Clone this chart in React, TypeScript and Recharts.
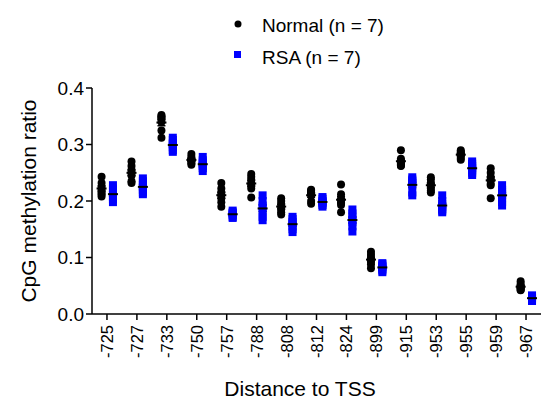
import React from 'react';
import { ScatterChart, Scatter, XAxis, YAxis, ErrorBar } from 'recharts';

const positions = ['-725', '-727', '-733', '-750', '-757', '-788', '-808', '-812', '-824', '-899', '-915', '-953', '-955', '-959', '-967'];

const normalValues: number[][] = [
  [0.243, 0.232, 0.225, 0.22, 0.215, 0.212, 0.208],
  [0.27, 0.262, 0.255, 0.25, 0.245, 0.235, 0.232],
  [0.352, 0.35, 0.348, 0.345, 0.34, 0.325, 0.312],
  [0.283, 0.278, 0.275, 0.272, 0.27, 0.267, 0.264],
  [0.232, 0.222, 0.215, 0.21, 0.205, 0.198, 0.19],
  [0.248, 0.243, 0.238, 0.232, 0.228, 0.222, 0.206],
  [0.205, 0.2, 0.195, 0.19, 0.185, 0.18, 0.176],
  [0.22, 0.218, 0.215, 0.213, 0.21, 0.2, 0.195],
  [0.229, 0.212, 0.205, 0.2, 0.197, 0.193, 0.18],
  [0.11, 0.105, 0.1, 0.097, 0.093, 0.088, 0.081],
  [0.29, 0.275, 0.27, 0.268, 0.265, 0.263, 0.262],
  [0.242, 0.238, 0.232, 0.228, 0.222, 0.218, 0.215],
  [0.29, 0.287, 0.285, 0.283, 0.28, 0.276, 0.273],
  [0.258, 0.25, 0.242, 0.238, 0.235, 0.228, 0.205],
  [0.058, 0.053, 0.05, 0.047, 0.045, 0.043, 0.042],
];

const rsaValues: number[][] = [
  [0.228, 0.222, 0.215, 0.212, 0.207, 0.203, 0.198],
  [0.24, 0.235, 0.228, 0.225, 0.22, 0.215, 0.212],
  [0.312, 0.308, 0.302, 0.3, 0.295, 0.29, 0.287],
  [0.278, 0.272, 0.268, 0.265, 0.262, 0.258, 0.253],
  [0.183, 0.18, 0.178, 0.178, 0.175, 0.172, 0.17],
  [0.21, 0.2, 0.192, 0.188, 0.18, 0.172, 0.166],
  [0.172, 0.168, 0.163, 0.16, 0.155, 0.15, 0.145],
  [0.207, 0.204, 0.2, 0.198, 0.196, 0.193, 0.19],
  [0.185, 0.178, 0.172, 0.166, 0.162, 0.155, 0.146],
  [0.09, 0.088, 0.085, 0.083, 0.08, 0.077, 0.074],
  [0.242, 0.238, 0.235, 0.232, 0.228, 0.215, 0.21],
  [0.21, 0.2, 0.195, 0.19, 0.186, 0.183, 0.18],
  [0.27, 0.266, 0.262, 0.258, 0.254, 0.25, 0.246],
  [0.228, 0.22, 0.215, 0.212, 0.205, 0.198, 0.192],
  [0.033, 0.031, 0.029, 0.028, 0.027, 0.025, 0.023],
];

const yTicks = [0, 0.1, 0.2, 0.3, 0.4];
const seriesNames = ['Normal (n = 7)', 'RSA (n = 7)'];

const FONT = '"Liberation Sans", Arial, Helvetica, sans-serif';
const BLUE = '#0000ff';
const NORMAL_OFFSET = -0.18;
const RSA_OFFSET = 0.2;

type Pt = { x: number; y: number; err?: number };

function toPoints(groups: number[][], offset: number): Pt[] {
  const out: Pt[] = [];
  groups.forEach((vals, i) => vals.forEach((v) => out.push({ x: i + offset, y: v })));
  return out;
}

function toMeans(groups: number[][], offset: number): Pt[] {
  return groups.map((vals, i) => {
    const n = vals.length;
    const m = vals.reduce((a, b) => a + b, 0) / n;
    const sd = Math.sqrt(vals.reduce((a, b) => a + (b - m) * (b - m), 0) / (n - 1));
    return { x: i + offset, y: m, err: sd / Math.sqrt(n) };
  });
}

const normalPts = toPoints(normalValues, NORMAL_OFFSET);
const rsaPts = toPoints(rsaValues, RSA_OFFSET);
const normalMeans = toMeans(normalValues, NORMAL_OFFSET);
const rsaMeans = toMeans(rsaValues, RSA_OFFSET);

const Dot = (p: any) => <circle cx={p.cx} cy={p.cy} r={4} fill="#000" />;
const Square = (p: any) => <rect x={p.cx - 4} y={p.cy - 4} width={8} height={8} fill={BLUE} />;
const MeanLine = (p: any) => (
  <line x1={p.cx - 5} x2={p.cx + 5} y1={p.cy} y2={p.cy} stroke="#000" strokeWidth={2} />
);

const XTick = (p: any) => {
  const { x, y, payload } = p;
  const ty = y + 3;
  return (
    <text
      x={x}
      y={ty}
      transform={`rotate(-90, ${x}, ${ty})`}
      textAnchor="end"
      dominantBaseline="central"
      fontFamily={FONT}
      fontSize={16.5}
      fill="#000"
    >
      {positions[payload.value]}
    </text>
  );
};

const YLabel = (p: any) => {
  const vb = p.viewBox || { x: 0, y: 88, width: 92, height: 226 };
  const cx = vb.x + 28;
  const cy = vb.y + vb.height / 2;
  return (
    <text
      x={cx}
      y={cy}
      transform={`rotate(-90, ${cx}, ${cy})`}
      textAnchor="middle"
      dominantBaseline="central"
      fontFamily={FONT}
      fontSize={21}
      fill="#000"
    >
      CpG methylation ratio
    </text>
  );
};

const XLabel = (p: any) => {
  const vb = p.viewBox || { x: 92, y: 314, width: 449, height: 93 };
  return (
    <text x={vb.x + 208} y={vb.y + 82} textAnchor="middle" fontFamily={FONT} fontSize={21} fill="#000">
      Distance to TSS
    </text>
  );
};

export default function App() {
  return (
    <div style={{ position: 'absolute', left: 0, top: 0, width: 541, height: 407, background: '#fff' }}>
      <ScatterChart width={541} height={407} margin={{ top: 88, right: 0, bottom: 0, left: 0 }}>
        <XAxis
          type="number"
          dataKey="x"
          domain={[-0.5, 14.5]}
          ticks={positions.map((_, i) => i)}
          interval={0}
          allowDataOverflow
          height={93}
          tickSize={6}
          axisLine={{ stroke: '#000', strokeWidth: 1.5 }}
          tickLine={{ stroke: '#000', strokeWidth: 1.5 }}
          tick={<XTick />}
          label={XLabel}
        />
        <YAxis
          type="number"
          dataKey="y"
          domain={[0, 0.4]}
          ticks={yTicks}
          interval={0}
          width={92}
          tickSize={6}
          tickFormatter={(v: number) => v.toFixed(1)}
          axisLine={{ stroke: '#000', strokeWidth: 1.5 }}
          tickLine={{ stroke: '#000', strokeWidth: 1.5 }}
          tick={{ fill: '#000', fontSize: 19, fontFamily: FONT }}
          label={YLabel}
        />
        <Scatter name={seriesNames[0]} data={normalPts} shape={Dot} isAnimationActive={false} />
        <Scatter name={seriesNames[1]} data={rsaPts} shape={Square} isAnimationActive={false} />
        <Scatter data={normalMeans} shape={MeanLine} isAnimationActive={false}>
          <ErrorBar dataKey="err" direction="y" width={4} stroke="#000" strokeWidth={1.5} />
        </Scatter>
        <Scatter data={rsaMeans} shape={MeanLine} isAnimationActive={false}>
          <ErrorBar dataKey="err" direction="y" width={4} stroke="#000" strokeWidth={1.5} />
        </Scatter>
      </ScatterChart>
      <svg width={541} height={80} style={{ position: 'absolute', left: 0, top: 0 }}>
        <circle cx={238} cy={24} r={3.5} fill="#000" />
        <text x={262} y={31.5} fontFamily={FONT} fontSize={19} fill="#000">
          {seriesNames[0]}
        </text>
        <rect x={234} y={51} width={7} height={7} fill={BLUE} />
        <text x={262} y={64} fontFamily={FONT} fontSize={19} fill="#000">
          {seriesNames[1]}
        </text>
      </svg>
    </div>
  );
}
